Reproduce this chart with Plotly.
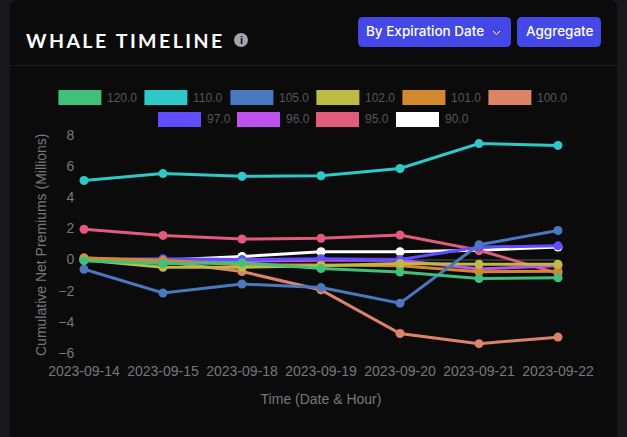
import plotly.graph_objects as go

dates = ["2023-09-14", "2023-09-15", "2023-09-18", "2023-09-19", "2023-09-20", "2023-09-21", "2023-09-22"]
strikes = ["120.0", "110.0", "105.0", "102.0", "101.0", "100.0", "97.0", "96.0", "95.0", "90.0"]
v120 = [-0.07, -0.25, -0.2, -0.58, -0.8, -1.22, -1.17]
v110 = [5.08, 5.52, 5.35, 5.38, 5.85, 7.45, 7.33]
v105 = [-0.62, -2.15, -1.57, -1.8, -2.8, 0.95, 1.87]
v102 = [-0.02, -0.5, -0.5, -0.4, -0.25, -0.3, -0.3]
v101 = [0.1, -0.05, -0.35, -0.35, -0.4, -0.78, -0.75]
v100 = [0.1, -0.13, -0.77, -1.95, -4.75, -5.4, -4.98]
v97 = [0.0, 0.05, 0.0, 0.05, 0.0, 0.8, 0.88]
v96 = [-0.05, -0.02, -0.1, -0.05, -0.05, -0.6, -0.4]
v95 = [1.95, 1.55, 1.32, 1.37, 1.58, 0.6, -0.88]
v90 = [0.0, -0.05, 0.2, 0.5, 0.5, 0.6, 0.8]
series = [v120, v110, v105, v102, v101, v100, v97, v96, v95, v90]
colors = ["#41c07c", "#2fc8c8", "#4a78bf", "#bcbc44", "#d2882c", "#dd8468", "#5f4dff", "#bd52f0", "#e25a7c", "#ffffff"]
title_text = "\u200a\u200a".join("WHALE TIMELINE")

W, H = 627, 437
L, R, T, B = 84, 558, 135, 353
fx = lambda px: (px - L) / (R - L)
fy = lambda py: (B - py) / (B - T)


def rounded(x0, y0, x1, y1, r):
    X0, X1 = fx(x0), fx(x1)
    Y0, Y1 = fy(y0), fy(y1)
    rx, ry = r / (R - L), r / (B - T)
    return (f"M{X0+rx},{Y0} L{X1-rx},{Y0} Q{X1},{Y0} {X1},{Y0-ry} L{X1},{Y1+ry} Q{X1},{Y1} {X1-rx},{Y1} "
            f"L{X0+rx},{Y1} Q{X0},{Y1} {X0},{Y1+ry} L{X0},{Y0-ry} Q{X0},{Y0} {X0+rx},{Y0} Z")


shapes = []
annots = []


def box(path, fill):
    shapes.append(dict(type="path", xref="paper", yref="paper", path=path, fillcolor=fill,
                       line=dict(width=0), layer="below"))


def text(px, py, s, size, color, family="Liberation Sans", anchor="left", weight=None, angle=0):
    annots.append(dict(x=fx(px - 2 if anchor == "left" else px), y=fy(py), xref="paper", yref="paper", text=s,
                       showarrow=False, xanchor=anchor, yanchor="middle", textangle=angle,
                       font=dict(size=size, color=color, family=family, weight=weight)))


# card and header
box(rounded(10, 0, 617, 460, 8), "#0b0b0c")
shapes.append(dict(type="line", xref="paper", yref="paper", x0=fx(10), x1=fx(617), y0=fy(65.5), y1=fy(65.5),
                   line=dict(color="#1b1b1d", width=1), layer="below"))
text(26, 40, title_text, 19.5, "#ffffff", "Lato", weight=700)
shapes.append(dict(type="circle", xref="paper", yref="paper", x0=fx(234), x1=fx(248), y0=fy(33), y1=fy(47),
                   fillcolor="#a3a5ab", line=dict(width=0), layer="below"))
text(241, 40, "i", 11, "#0b0b0c", "Liberation Sans", "center", 700)

# buttons
box(rounded(358, 17, 511, 47, 5), "#4448e6")
box(rounded(517, 17, 601, 47, 5), "#4448e6")
text(366, 31, "By Expiration Date", 13.5, "#ffffff", "Inter", weight=500)
text(526, 31, "Aggregate", 13.5, "#ffffff", "Inter", weight=500)
shapes.append(dict(type="path", xref="paper", yref="paper",
                   path=f"M{fx(493)},{fy(31)} L{fx(496.5)},{fy(34.5)} L{fx(500)},{fy(31)}",
                   line=dict(color="#ffffff", width=1), layer="above"))

# legend
legend_pos = [(58.4, 90), (144.4, 90), (230.4, 90), (316.4, 90), (402.4, 90), (488.4, 90),
              (158, 112), (237, 112), (316, 112), (396, 112)]
for (lx, ly), s, c in zip(legend_pos, strikes, colors):
    shapes.append(dict(type="rect", xref="paper", yref="paper", x0=fx(lx), x1=fx(lx + 43), y0=fy(ly), y1=fy(ly + 15),
                       fillcolor=c, line=dict(width=0), layer="below"))
    text(lx + 49, ly + 7.5, s, 12, "#555558")

# axis titles placed to the pixel
text(41, 245, "Cumulative Net Premiums (Millions)", 14, "#77777a", anchor="center", angle=-90)

fig = go.Figure()
for s, vals, c in reversed(list(zip(strikes, series, colors))):
    fig.add_trace(go.Scatter(x=dates, y=vals, name=s, mode="lines+markers", cliponaxis=False,
                             line=dict(color=c, width=3), marker=dict(color=c, size=9)))

fig.update_layout(
    width=W, height=H, autosize=False, showlegend=False,
    margin=dict(l=L, r=W - R, t=T, b=H - B, pad=0),
    paper_bgcolor="#18181a", plot_bgcolor="rgba(0,0,0,0)",
    font=dict(family="Liberation Sans", size=14, color="#77777a"),
    shapes=shapes, annotations=annots,
    xaxis=dict(type="category", range=[0, 6], showgrid=False, zeroline=False, showline=False,
               ticks="outside", ticklen=5, tickcolor="rgba(0,0,0,0)",
               tickfont=dict(size=14, color="#77777a"),
               title=dict(text="Time (Date & Hour)", font=dict(size=14, color="#77777a"), standoff=16)),
    yaxis=dict(range=[-6, 8], tickvals=[-6, -4, -2, 0, 2, 4, 6, 8], showgrid=False, showline=False,
               zeroline=True, zerolinecolor="#333335", zerolinewidth=2,
               ticks="outside", ticklen=6, tickcolor="rgba(0,0,0,0)",
               tickfont=dict(size=14, color="#77777a")),
)
fig.write_html("out.html", config=dict(displayModeBar=False),
               post_script="document.body.style.margin='0';document.body.style.background='#18181a';")
